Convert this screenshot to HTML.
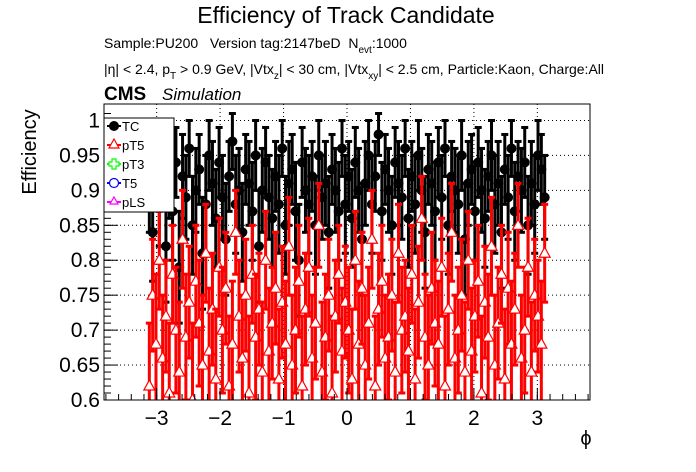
<!DOCTYPE html>
<html><head><meta charset="utf-8"><style>
body{margin:0;background:#fff}
svg{display:block;font-family:"Liberation Sans",sans-serif}
</style></head><body>
<svg id="chart" width="696" height="472" viewBox="0 0 696 472">
<rect width="696" height="472" fill="#fff"/>
<text x="346" y="23" font-size="23" text-anchor="middle">Efficiency of Track Candidate</text>
<text x="104" y="48" font-size="14" style="white-space:pre">Sample:PU200   Version tag:2147beD  N<tspan font-size="10" dy="5">evt</tspan><tspan dy="-5">:1000</tspan></text>
<text x="104" y="74" font-size="14">|η| &lt; 2.4, p<tspan font-size="10" dy="5">T</tspan><tspan dy="-5"> &gt; 0.9 GeV, |Vtx</tspan><tspan font-size="10" dy="5">z</tspan><tspan dy="-5">| &lt; 30 cm, |Vtx</tspan><tspan font-size="10" dy="5">xy</tspan><tspan dy="-5">| &lt; 2.5 cm, Particle:Kaon, Charge:All</tspan></text>
<text x="104" y="100" font-size="19" font-weight="bold">CMS</text>
<text x="162" y="100" font-size="17" font-style="italic">Simulation</text>
<text transform="translate(36,152) rotate(-90)" font-size="20" text-anchor="middle">Efficiency</text>
<text x="586" y="445" font-size="20" text-anchor="middle">ϕ</text>
<defs><clipPath id="fr"><rect x="104" y="104" width="486" height="296"/></clipPath></defs>
<g id="grid"></g>
<g id="marks" clip-path="url(#fr)"></g>
<rect x="104" y="104" width="486" height="296" fill="none" stroke="#000" stroke-width="1"/>
<g id="axes"></g>
<g>
<rect x="104" y="118" width="70" height="94" fill="#fff" stroke="#000" stroke-width="1"/>
<g><line x1="107" x2="121" y1="126" y2="126" stroke="#000" stroke-width="2"/><circle cx="114" cy="126" r="5" fill="#000"/><text x="122" y="131" font-size="13">TC</text></g>
<g><line x1="107" x2="121" y1="145" y2="145" stroke="red" stroke-width="2"/><path d="M114 139 L119 148 L109 148 Z" fill="#fff" stroke="red" stroke-width="1.2"/><text x="122" y="150" font-size="13">pT5</text></g>
<g><line x1="107" x2="121" y1="164" y2="164" stroke="#0f0" stroke-width="2"/><path d="M112 159h4v3h3v4h-3v3h-4v-3h-3v-4h3z" fill="#fff" stroke="#0f0" stroke-width="1.2"/><text x="122" y="169" font-size="13">pT3</text></g>
<g><line x1="107" x2="121" y1="183" y2="183" stroke="#00f" stroke-width="2"/><circle cx="114" cy="183" r="4.5" fill="#fff" stroke="#00f" stroke-width="1.2"/><text x="122" y="188" font-size="13">T5</text></g>
<g><line x1="107" x2="121" y1="202" y2="202" stroke="#f0f" stroke-width="2"/><path d="M114 197 L118 204 L110 204 Z" fill="#fff" stroke="#f0f" stroke-width="1.2"/><text x="122" y="207" font-size="13">pLS</text></g>
</g>
</svg>
<script>
const tcValues=[0.90,0.84,0.93,0.88,0.95,0.82,0.91,0.87,0.94,0.79,0.92,0.89,0.96,0.85,0.90,0.93,0.81,0.88,0.95,0.91,
0.86,0.94,0.89,0.83,0.92,0.97,0.88,0.90,0.84,0.93,0.91,0.87,0.95,0.82,0.90,0.94,0.89,0.86,0.92,0.88,
0.96,0.85,0.91,0.93,0.87,0.80,0.94,0.90,0.88,0.92,0.85,0.95,0.89,0.91,0.84,0.93,0.90,0.87,0.96,0.88,
0.92,0.86,0.94,0.90,0.83,0.91,0.95,0.88,0.92,0.98,0.87,0.93,0.90,0.85,0.94,0.91,0.89,0.96,0.86,0.92,
0.88,0.95,0.90,0.84,0.93,0.91,0.87,0.94,0.89,0.96,0.85,0.92,0.90,0.88,0.95,0.83,0.91,0.93,0.87,0.94,
0.90,0.86,0.92,0.95,0.88,0.91,0.84,0.93,0.89,0.96,0.87,0.92,0.90,0.94,0.85,0.91,0.88,0.95,0.93,0.89];
const tcErrors=[0.06,0.07,0.05,0.06,0.04,0.08,0.05,0.07,0.05,0.08,0.06,0.06,0.04,0.07,0.06,0.05,0.08,0.07,0.05,0.06,
0.07,0.05,0.06,0.08,0.05,0.04,0.07,0.06,0.07,0.05,0.06,0.07,0.05,0.08,0.06,0.05,0.06,0.07,0.05,0.07,
0.04,0.07,0.06,0.05,0.07,0.08,0.05,0.06,0.07,0.05,0.07,0.05,0.06,0.06,0.08,0.05,0.06,0.07,0.04,0.07,
0.05,0.07,0.05,0.06,0.08,0.06,0.05,0.07,0.05,0.03,0.07,0.05,0.06,0.07,0.05,0.06,0.06,0.04,0.07,0.05,
0.07,0.05,0.06,0.08,0.05,0.06,0.07,0.05,0.06,0.04,0.07,0.05,0.06,0.07,0.05,0.08,0.06,0.05,0.07,0.05,
0.06,0.07,0.05,0.05,0.07,0.06,0.08,0.05,0.06,0.04,0.07,0.05,0.06,0.05,0.07,0.06,0.07,0.05,0.05,0.06];
const pt5Values=[0.62,0.75,0.68,0.80,0.66,0.72,0.61,0.78,0.70,0.64,0.83,0.69,0.74,0.60,0.77,0.71,0.65,0.81,0.67,0.73,
0.63,0.79,0.70,0.76,0.62,0.68,0.84,0.72,0.66,0.75,0.61,0.78,0.69,0.73,0.64,0.80,0.67,0.71,0.76,0.63,
0.74,0.68,0.82,0.65,0.70,0.77,0.62,0.73,0.79,0.66,0.71,0.85,0.64,0.69,0.75,0.61,0.72,0.78,0.67,0.74,
0.70,0.63,0.80,0.68,0.76,0.65,0.71,0.83,0.62,0.73,0.77,0.66,0.69,0.75,0.64,0.81,0.70,0.72,0.67,0.78,
0.63,0.74,0.86,0.69,0.65,0.76,0.71,0.68,0.79,0.62,0.73,0.84,0.66,0.70,0.75,0.64,0.80,0.67,0.72,0.77,
0.61,0.74,0.69,0.82,0.65,0.71,0.78,0.63,0.76,0.68,0.73,0.85,0.66,0.70,0.79,0.64,0.75,0.72,0.68,0.81];
const pt5Errors=[0.09,0.08,0.10,0.07,0.09,0.08,0.10,0.07,0.09,0.10,0.07,0.09,0.08,0.11,0.08,0.09,0.10,0.07,0.09,0.08,
0.10,0.07,0.09,0.08,0.10,0.09,0.06,0.08,0.09,0.08,0.11,0.07,0.09,0.08,0.10,0.07,0.09,0.08,0.08,0.10,
0.08,0.09,0.07,0.10,0.09,0.08,0.10,0.08,0.07,0.09,0.08,0.06,0.10,0.09,0.08,0.11,0.08,0.07,0.09,0.08,
0.09,0.10,0.07,0.09,0.08,0.10,0.08,0.07,0.10,0.08,0.08,0.09,0.09,0.08,0.10,0.07,0.09,0.08,0.09,0.07,
0.10,0.08,0.06,0.09,0.10,0.08,0.09,0.09,0.07,0.10,0.08,0.07,0.09,0.09,0.08,0.10,0.07,0.09,0.08,0.08,
0.11,0.08,0.09,0.07,0.10,0.08,0.07,0.10,0.08,0.09,0.08,0.06,0.09,0.09,0.07,0.10,0.08,0.08,0.09,0.07];
const xTicks=[-3,-2,-1,0,1,2,3];
const yTicks=[0.6,0.65,0.7,0.75,0.8,0.85,0.9,0.95,1];
const yTickLabels=["0.6","0.65","0.7","0.75","0.8","0.85","0.9","0.95","1"];
const phiMin=-Math.PI, phiMax=Math.PI;

const NS="http://www.w3.org/2000/svg";
const X0=104,X1=590,Y0=104,Y1=400;
const xMin=-3.83,xMax=3.83,yMin=0.6,yMax=1.0236;
const sx=v=>X0+(v-xMin)/(xMax-xMin)*(X1-X0);
const sy=v=>Y1-(v-yMin)/(yMax-yMin)*(Y1-Y0);
function mk(tag,attrs,parent){const e=document.createElementNS(NS,tag);for(const k in attrs)e.setAttribute(k,attrs[k]);parent.appendChild(e);return e;}
const grid=document.getElementById('grid'),axes=document.getElementById('axes'),marks=document.getElementById('marks');

xTicks.forEach(t=>{
  const gl=mk('line',{x1:sx(t),x2:sx(t),y1:Y0,y2:Y1,stroke:'#000','stroke-width':1,'stroke-dasharray':'1,3'},grid);
  
  
  const tk=mk('line',{x1:sx(t),x2:sx(t),y1:Y1,y2:Y1-12,stroke:'#000'},axes);
  
  
  const lb=mk('text',{x:sx(t),y:425,'font-size':21,'text-anchor':'middle'},axes);
  lb.textContent=(t<0?'\u2212'+(-t):String(t));
  
  
});
for(let v=-3.8;v<=3.81;v+=0.2){const m=mk('line',{x1:sx(v),x2:sx(v),y1:Y1,y2:Y1-6,stroke:'#000'},axes);}
yTicks.forEach((t,i)=>{
  const gl=mk('line',{x1:X0,x2:X1,y1:sy(t),y2:sy(t),stroke:'#000','stroke-width':1,'stroke-dasharray':'1,3'},grid);
  
  
  const tk=mk('line',{x1:X0,x2:X0+14,y1:sy(t),y2:sy(t),stroke:'#000'},axes);
  
  
  const lb=mk('text',{x:100,y:sy(t)+7,'font-size':21,'text-anchor':'end'},axes);
  lb.textContent=yTickLabels[i];
  
  
});
for(let v=0.61;v<1.02;v+=0.01){const m=mk('line',{x1:X0,x2:X0+7,y1:sy(v),y2:sy(v),stroke:'#000'},axes);}

const N=tcValues.length;
const bw=(phiMax-phiMin)/N;
function series(vals,errs,color,kind,name){
  vals.forEach((v,i)=>{
    const x=sx(phiMin+(i+0.5)*bw);
    const g=mk('g',{},marks);
    
    
    const yt=sy(v+errs[i]),yb=sy(v-errs[i]),y=sy(v);
    mk('line',{x1:x,x2:x,y1:yt,y2:yb,stroke:color,'stroke-width':3},g);
    mk('line',{x1:x-3.5,x2:x+3.5,y1:yt,y2:yt,stroke:color,'stroke-width':3},g);
    mk('line',{x1:x-3.5,x2:x+3.5,y1:yb,y2:yb,stroke:color,'stroke-width':3},g);
    if(kind==='circle') mk('circle',{cx:x,cy:y,r:5,fill:color},g);
    else mk('path',{d:`M${x} ${y-6} L${x+5.5} ${y+4} L${x-5.5} ${y+4} Z`,fill:'#fff',stroke:color,'stroke-width':1.2},g);
  });
}
series(tcValues,tcErrors,'#000','circle','tc');
series(pt5Values,pt5Errors,'#f00','tri','pt5');
</script>
</body></html>
